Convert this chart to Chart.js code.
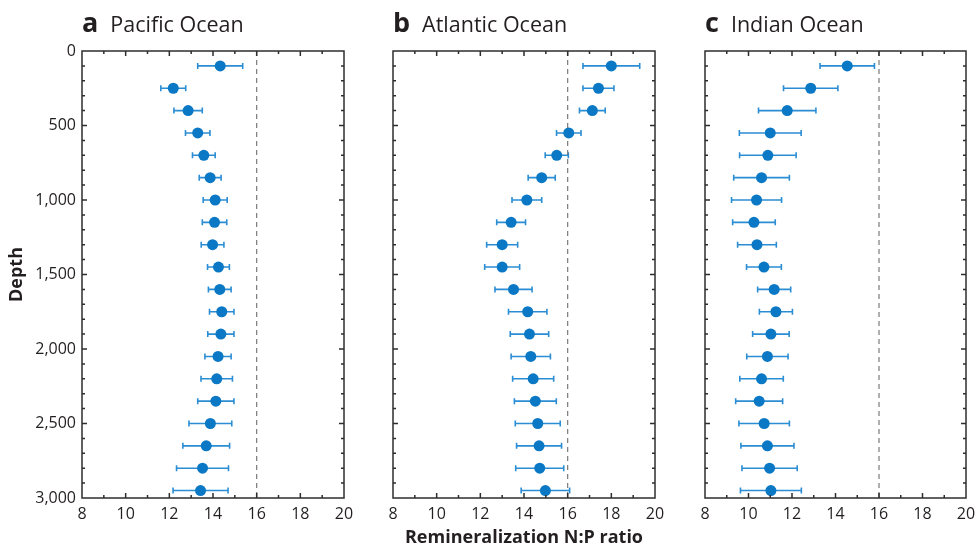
<!DOCTYPE html>
<html>
<head>
  <title>Remineralization N:P ratio by depth</title>
  <script src="https://cdn.jsdelivr.net/npm/chart.js"></script>
  <style>
    body { margin: 0; background: #fff; }
    #wrap { position: relative; width: 978px; height: 547px; overflow: hidden; font-family: "Open Sans", sans-serif; color: #231f20; }
    canvas { position: absolute; top: 0; }
    .head { position: absolute; top: 8px; font-size: 21.5px; line-height: 1; white-space: nowrap; }
    .head b { font-size: 27px; margin-right: 12px; }
  </style>
</head>
<body>
  <div id="wrap">
    <canvas id="chartA" width="365" height="547" style="left:0px"></canvas>
    <canvas id="chartB" width="330" height="547" style="left:345px"></canvas>
    <canvas id="chartC" width="318" height="547" style="left:660px"></canvas>
    <div class="head" style="left:82px"><b>a</b>Pacific Ocean</div>
    <div class="head" style="left:393px"><b>b</b>Atlantic Ocean</div>
    <div class="head" style="left:705px"><b>c</b>Indian Ocean</div>
  </div>

  <script>
    // depth levels (m)
    const depth = [100, 250, 400, 550, 700, 850, 1000, 1150, 1300, 1450,
                   1600, 1750, 1900, 2050, 2200, 2350, 2500, 2650, 2800, 2950];

    // N:P ratio and +/- error per depth
    const pacificNP  = [14.33, 12.18, 12.86, 13.30, 13.58, 13.87, 14.10, 14.07, 13.98, 14.25,
                        14.31, 14.40, 14.36, 14.23, 14.17, 14.13, 13.88, 13.69, 13.52, 13.43];
    const pacificErr = [1.03, 0.57, 0.65, 0.56, 0.52, 0.50, 0.55, 0.56, 0.52, 0.50,
                        0.52, 0.56, 0.60, 0.60, 0.72, 0.83, 0.98, 1.07, 1.19, 1.26];

    const atlanticNP  = [18.00, 17.41, 17.13, 16.05, 15.50, 14.81, 14.13, 13.41, 13.00, 13.00,
                         13.52, 14.17, 14.25, 14.31, 14.42, 14.52, 14.63, 14.69, 14.72, 14.98];
    const atlanticErr = [1.30, 0.71, 0.59, 0.56, 0.53, 0.62, 0.68, 0.66, 0.71, 0.80,
                         0.85, 0.88, 0.88, 0.90, 0.94, 0.96, 1.03, 1.03, 1.10, 1.11];

    const indianNP  = [14.54, 12.86, 11.78, 11.00, 10.89, 10.60, 10.37, 10.25, 10.39, 10.71,
                       11.18, 11.26, 11.03, 10.87, 10.60, 10.49, 10.72, 10.87, 10.97, 11.03];
    const indianErr = [1.25, 1.25, 1.32, 1.42, 1.30, 1.28, 1.15, 0.98, 0.89, 0.80,
                       0.76, 0.76, 0.84, 0.95, 1.00, 1.08, 1.16, 1.22, 1.27, 1.40];

    // Redfield reference ratio
    const redfield = 16;
    const xTicks = [8, 10, 12, 14, 16, 18, 20];
    const depthTicks = [0, 500, 1000, 1500, 2000, 2500, 3000];

    const FONT = '"Open Sans", sans-serif';
    const INK = '#231f20';
    const FRAME = '#2e2e2e';
    const DOT = '#0a78c4';
    const BAR = '#2b8dd3';

    // horizontal error bars, drawn under the dots
    const errorBars = {
      id: 'errorBars',
      beforeDatasetsDraw(chart) {
        const ctx = chart.ctx;
        const xs = chart.scales.x, ys = chart.scales.y;
        const ds = chart.data.datasets[0];
        ctx.save();
        ctx.strokeStyle = BAR;
        ctx.lineWidth = 1.6;
        ds.data.forEach((p, i) => {
          const e = ds.errors[i];
          const y = ys.getPixelForValue(p.y);
          const x0 = xs.getPixelForValue(p.x - e);
          const x1 = xs.getPixelForValue(p.x + e);
          ctx.beginPath();
          ctx.moveTo(x0, y); ctx.lineTo(x1, y);
          ctx.moveTo(x0, y - 3); ctx.lineTo(x0, y + 3);
          ctx.moveTo(x1, y - 3); ctx.lineTo(x1, y + 3);
          ctx.stroke();
        });
        ctx.restore();
      }
    };

    // box frame with inward ticks on all four sides
    const frameTicks = {
      id: 'frameTicks',
      afterDraw(chart) {
        const ctx = chart.ctx;
        const a = chart.chartArea;
        const xs = chart.scales.x, ys = chart.scales.y;
        ctx.save();
        ctx.strokeStyle = FRAME;
        ctx.lineWidth = 1.5;
        ctx.beginPath();
        for (let v = xs.min + 1; v < xs.max; v++) {
          const len = v % 2 === 0 ? 5 : 3;
          const x = xs.getPixelForValue(v);
          ctx.moveTo(x, a.top); ctx.lineTo(x, a.top + len);
          ctx.moveTo(x, a.bottom); ctx.lineTo(x, a.bottom - len);
        }
        for (let v = ys.min + 100; v < ys.max; v += 100) {
          const len = v % 500 === 0 ? 5 : 3;
          const y = ys.getPixelForValue(v);
          ctx.moveTo(a.left, y); ctx.lineTo(a.left + len, y);
          ctx.moveTo(a.right, y); ctx.lineTo(a.right - len, y);
        }
        ctx.stroke();
        ctx.strokeRect(a.left, a.top, a.right - a.left, a.bottom - a.top);
        ctx.restore();
      }
    };

    function makePanel(id, values, errs, yWidth, padRight, showDepth, showXTitle) {
      const pts = depth.map((d, i) => ({ x: values[i], y: d }));
      return new Chart(document.getElementById(id), {
        type: 'scatter',
        data: {
          datasets: [{
            data: pts,
            errors: errs,
            backgroundColor: DOT,
            borderColor: DOT,
            pointRadius: 5.5,
            pointBorderWidth: 0,
            order: 0
          }, {
            type: 'line',
            data: [{ x: redfield, y: 0 }, { x: redfield, y: 3000 }],
            borderColor: '#7a7a7a',
            borderWidth: 1.2,
            borderDash: [5, 4],
            pointRadius: 0,
            order: 1
          }]
        },
        options: {
          responsive: false,
          animation: false,
          layout: { padding: { top: 51, right: padRight, left: 0, bottom: 0 } },
          plugins: { legend: { display: false }, tooltip: { enabled: false } },
          scales: {
            x: {
              type: 'linear',
              min: 8, max: 20,
              grid: { display: false, drawTicks: false },
              border: { display: false },
              afterBuildTicks: s => { s.ticks = xTicks.map(v => ({ value: v })); },
              afterFit: s => { s.height = 49; s.paddingLeft = 0; s.paddingRight = 0; },
              ticks: { color: INK, padding: 7, maxRotation: 0, font: { family: FONT, size: 16 } },
              title: {
                display: showXTitle,
                text: 'Remineralization N:P ratio',
                color: INK,
                padding: { top: 0, bottom: 0 },
                font: { family: FONT, size: 18, weight: 'bold', lineHeight: 1 }
              }
            },
            y: {
              type: 'linear',
              reverse: true,
              min: 0, max: 3000,
              grid: { display: false, drawTicks: false },
              border: { display: false },
              afterBuildTicks: s => { s.ticks = depthTicks.map(v => ({ value: v })); },
              afterFit: s => { s.width = yWidth; s.paddingTop = 0; s.paddingBottom = 0; },
              ticks: {
                display: showDepth,
                color: INK,
                padding: 6,
                font: { family: FONT, size: 16 },
                callback: v => v.toLocaleString('en-US')
              },
              title: {
                display: showDepth,
                text: 'Depth',
                color: INK,
                padding: { top: 6, bottom: 0 },
                font: { family: FONT, size: 18, weight: 'bold' }
              }
            }
          }
        },
        plugins: [errorBars, frameTicks]
      });
    }

    makePanel('chartA', pacificNP, pacificErr, 82, 21, true, false);
    makePanel('chartB', atlanticNP, atlanticErr, 48, 20, false, true);
    makePanel('chartC', indianNP, indianErr, 45, 12, false, false);
  </script>
</body>
</html>
